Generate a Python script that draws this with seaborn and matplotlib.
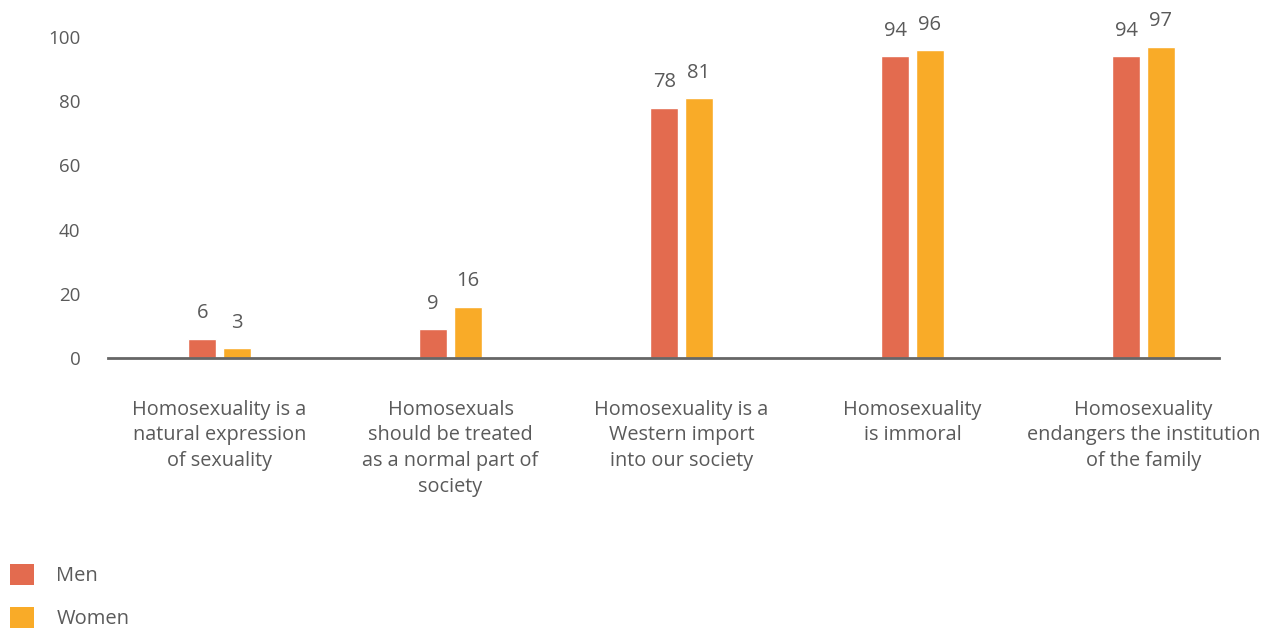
import matplotlib
matplotlib.use("Agg")
import matplotlib.pyplot as plt
from matplotlib.patches import Patch
import seaborn as sns
import pandas as pd

categories = [
    "Homosexuality is a\nnatural expression\nof sexuality",
    "Homosexuals\nshould be treated\nas a normal part of\nsociety",
    "Homosexuality is a\nWestern import\ninto our society",
    "Homosexuality\nis immoral",
    "Homosexuality\nendangers the institution\nof the family",
]
men = [6, 9, 78, 94, 94]
women = [3, 16, 81, 96, 97]
groups = ["Men", "Women"]
colors = ["#E36B4F", "#F9AB28"]
y_ticks = [0, 20, 40, 60, 80, 100]

text_color = "#5a5a5a"

df = pd.DataFrame({
    "statement": categories * 2,
    "value": men + women,
    "group": [groups[0]] * len(men) + [groups[1]] * len(women),
})

sns.set_theme(style="white")
plt.rcParams["font.family"] = ["Open Sans", "DejaVu Sans"]

fig = plt.figure(figsize=(12.74, 6.30), dpi=100)
ax = fig.add_axes([0.0848, 0.4317, 0.872, 0.5096])

sns.barplot(
    data=df, x="statement", y="value", hue="group",
    order=categories, hue_order=groups, palette=colors,
    width=0.30, gap=0.2, saturation=1, legend=False, ax=ax,
)

for container in ax.containers:
    ax.bar_label(container, fmt="%d", padding=11, fontsize=14.5, color=text_color)

ax.set_ylim(0, 100)
ax.set_xlim(-0.483, 4.327)
ax.set_yticks(y_ticks)
ax.set_yticklabels([str(t) for t in y_ticks], fontsize=13.5, color=text_color)
ax.tick_params(axis="y", length=0, pad=20)
ax.tick_params(axis="x", length=0, pad=30)
ax.set_xticks(range(len(categories)))
ax.set_xticklabels(categories, fontsize=14.3, color=text_color, linespacing=1.38, va="top")
ax.set_xlabel("")
ax.set_ylabel("")

for side in ["top", "right", "left"]:
    ax.spines[side].set_visible(False)
ax.spines["bottom"].set_color("#666666")
ax.spines["bottom"].set_linewidth(2)

handles = [Patch(facecolor=c, edgecolor="none") for c in colors]
fig.legend(
    handles, groups, loc="upper left", bbox_to_anchor=(10 / 1274, 1 - 564 / 630),
    frameon=False, fontsize=14.5, labelcolor=text_color,
    handlelength=1.2, handleheight=1.2, handletextpad=1.1, labelspacing=1.05,
    borderaxespad=0, borderpad=0,
)

fig.savefig("out.png", dpi=100, facecolor="white")
